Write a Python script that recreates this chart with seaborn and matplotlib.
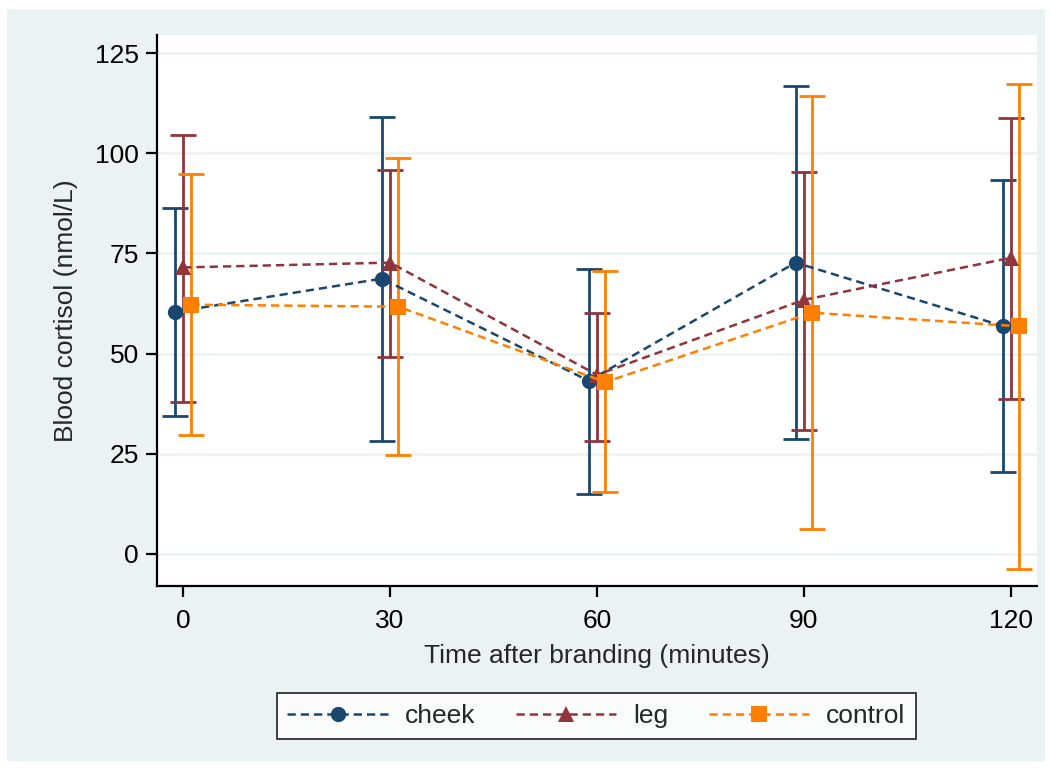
import numpy as np
import pandas as pd
import matplotlib
matplotlib.use("Agg")
import matplotlib.pyplot as plt
import matplotlib.patches as mpatches
import seaborn as sns

# ---- data ----
times = [0, 30, 60, 90, 120]
groups = ["cheek", "leg", "control"]
cheek_mean = [60.4, 68.7, 43.2, 72.7, 56.9]
cheek_lo = [34.4, 28.2, 15.0, 28.7, 20.5]
cheek_hi = [86.3, 109.1, 71.1, 116.8, 93.3]
leg_mean = [71.5, 72.7, 44.7, 63.4, 73.9]
leg_lo = [37.8, 49.1, 28.2, 30.9, 38.6]
leg_hi = [104.6, 95.8, 60.1, 95.3, 108.8]
control_mean = [62.2, 61.7, 42.9, 60.2, 56.8]
control_lo = [29.8, 24.8, 15.4, 6.2, -3.8]
control_hi = [94.7, 98.7, 70.5, 114.3, 117.3]
yticks = [0, 25, 50, 75, 100, 125]
xticks = [0, 30, 60, 90, 120]

colors = {"cheek": "#1a476f", "leg": "#90353b", "control": "#ff8000"}
markers = {"cheek": "o", "leg": "^", "control": "s"}
dodge = {"cheek": -1.2, "leg": 0.0, "control": 1.2}

means = {"cheek": cheek_mean, "leg": leg_mean, "control": control_mean}
los = {"cheek": cheek_lo, "leg": leg_lo, "control": control_lo}
his = {"cheek": cheek_hi, "leg": leg_hi, "control": control_hi}

rows = []
for g in groups:
    for t, m, lo, hi in zip(times, means[g], los[g], his[g]):
        rows.append({"group": g, "time": t, "x": t + dodge[g], "mean": m, "lo": lo, "hi": hi})
df = pd.DataFrame(rows)

sns.set_style("white")
plt.rcParams["font.family"] = ["Liberation Sans", "DejaVu Sans"]
FS = 19

fig = plt.figure(figsize=(10.5, 7.69), dpi=100)
fig.patch.set_facecolor("white")
bg = mpatches.Rectangle((7 / 1050, 1 - 761 / 769), 1038 / 1050, 752 / 769,
                        transform=fig.transFigure, facecolor="#eaf2f3",
                        edgecolor="none", zorder=-10)
fig.patches.append(bg)

ax = fig.add_axes([157 / 1050, 1 - 586 / 769, 880 / 1050, 551 / 769])
ax.set_facecolor("white")

# error bars
for g in groups:
    sub = df[df.group == g]
    ax.errorbar(sub["x"], sub["mean"],
                yerr=[sub["mean"] - sub["lo"], sub["hi"] - sub["mean"]],
                fmt="none", ecolor=colors[g], elinewidth=2.0,
                capsize=9.5, capthick=2.0, zorder=2)

sns.lineplot(data=df, x="x", y="mean", hue="group", style="group",
             hue_order=groups, style_order=groups,
             palette=colors, markers=markers,
             dashes={g: (3.3, 2.0) for g in groups},
             markersize=11, markeredgewidth=0, linewidth=1.8,
             ax=ax, legend=True, zorder=3)

handles, labels = ax.get_legend_handles_labels()
ax.get_legend().remove()

ax.set_xlim(-3.8, 123.8)
ax.set_ylim(-8.0, 129.5)
ax.set_xticks(xticks)
ax.set_yticks(yticks)
ax.set_xticklabels([str(v) for v in xticks], fontsize=FS)
ax.set_yticklabels([str(v) for v in yticks], fontsize=FS)
ax.grid(axis="y", color="#eaf2f3", linewidth=1.8)
ax.grid(axis="x", visible=False)
ax.set_axisbelow(True)

for s in ["top", "right"]:
    ax.spines[s].set_visible(False)
for s in ["left", "bottom"]:
    ax.spines[s].set_color("black")
    ax.spines[s].set_linewidth(1.6)
ax.tick_params(axis="both", direction="out", length=8, width=1.6,
               color="black", labelcolor="black", left=True, bottom=True)
ax.tick_params(axis="x", pad=8.5)
ax.tick_params(axis="y", pad=5)

ax.set_xlabel("Time after branding (minutes)", fontsize=FS, labelpad=8)
ax.set_ylabel("Blood cortisol (nmol/L)", fontsize=FS, labelpad=12)

leg = fig.legend(handles, labels, loc="center",
                 bbox_to_anchor=(596.5 / 1050, 1 - 716 / 769),
                 ncol=3, frameon=True, fancybox=False, fontsize=FS,
                 handlelength=3.8, numpoints=1, columnspacing=1.55,
                 handletextpad=0.64, borderpad=0.4)
leg.get_frame().set_edgecolor("black")
leg.get_frame().set_linewidth(1.3)
leg.get_frame().set_facecolor("white")

fig.savefig("out.png", dpi=100)
